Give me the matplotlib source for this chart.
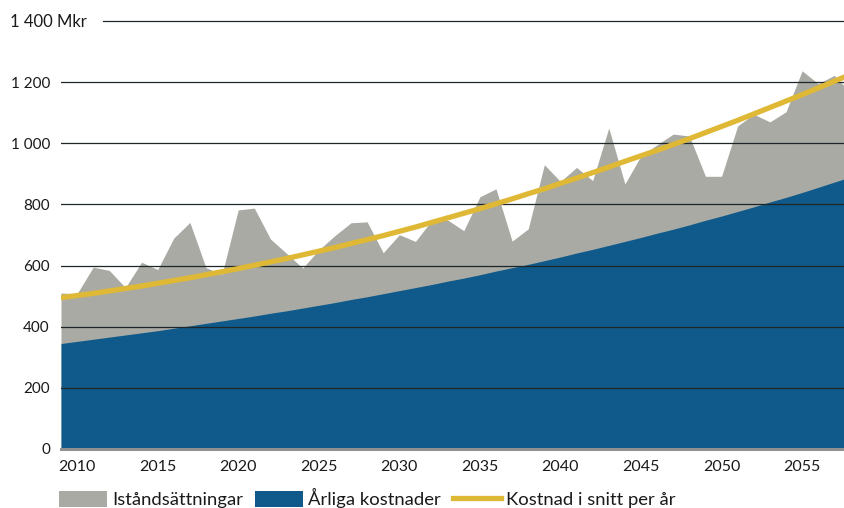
import matplotlib
matplotlib.use("Agg")
import matplotlib.pyplot as plt
from matplotlib.patches import Patch
from matplotlib.lines import Line2D

years = list(range(2009, 2059))

# top of the grey area (annual costs + repairs), Mkr
total = [510, 508, 595, 584, 528, 611, 587, 690, 741, 593,
         572, 782, 788, 687, 640, 592, 651, 698, 740, 743,
         642, 701, 679, 747, 749, 714, 825, 851, 680, 720,
         930, 875, 921, 878, 1050, 867, 959, 995, 1030, 1024,
         892, 892, 1057, 1095, 1070, 1103, 1237, 1195, 1222, 1165]

# Årliga kostnader
annual = [345, 352, 359, 366, 373, 380, 387, 395, 403, 411,
          419, 427, 435, 444, 452, 461, 470, 479, 489, 498,
          508, 518, 528, 538, 549, 559, 570, 582, 593, 604,
          616, 628, 641, 653, 666, 679, 692, 706, 719, 733,
          748, 762, 777, 792, 808, 823, 839, 856, 873, 890]

# Kostnad i snitt per år
average = [495, 502, 509, 517, 525, 533, 542, 551, 560, 570,
           580, 590, 601, 612, 623, 635, 647, 659, 672, 685,
           698, 712, 726, 741, 756, 771, 786, 802, 818, 835,
           851, 869, 886, 904, 922, 941, 959, 977, 996, 1015,
           1035, 1055, 1075, 1096, 1117, 1138, 1159, 1181, 1203, 1225]

xtick_years = list(range(2010, 2056, 5))
ytick_vals = [0, 200, 400, 600, 800, 1000, 1200]
ytick_labels = ["0", "200", "400", "600", "800", "1 000", "1 200"]
legend_labels = ["Iståndsättningar", "Årliga kostnader", "Kostnad i snitt per år"]

grey = "#a8aaa3"
blue = "#0f5a8a"
yellow = "#dfb936"
gridc = "#1f2628"

plt.rcParams["font.family"] = ["Lato", "DejaVu Sans"]

fig = plt.figure(figsize=(8.44, 5.08), dpi=100)
ax = fig.add_axes([61 / 844, 59 / 508, 783 / 844, 428 / 508])

ax.fill_between(years, 0, total, color=grey, lw=0, zorder=1)
ax.fill_between(years, 0, annual, color=blue, lw=0, zorder=2)

for v in ytick_vals[1:]:
    ax.axhline(v, color=gridc, lw=0.9, zorder=3)
ax.axhline(1400, xmin=42 / 783, color=gridc, lw=0.9, zorder=3, clip_on=False)
ax.axhline(0, color="#8e918e", lw=2.2, zorder=5, clip_on=False)

ax.plot(years, average, color=yellow, lw=3.8, zorder=4, solid_capstyle="butt")

ax.set_xlim(2009, 2057.6)
ax.set_ylim(0, 1400)
for s in ax.spines.values():
    s.set_visible(False)

ax.set_yticks(ytick_vals)
ax.set_yticklabels(ytick_labels)
ax.set_xticks(xtick_years)
ax.set_xticklabels([str(y) for y in xtick_years])
ax.tick_params(axis="y", length=0, pad=8, labelsize=11, colors="#1a1a1a")
ax.tick_params(axis="x", length=0, pad=8, labelsize=11.5, colors="#1a1a1a")

fig.text(10 / 844, 1 - 22 / 508, "1 400 Mkr", fontsize=12, color="#1a1a1a",
         ha="left", va="center")

handles = [Patch(color=grey, lw=0), Patch(color=blue, lw=0),
           Line2D([], [], color=yellow, lw=3.8)]
fig.legend(handles, legend_labels, loc="center left",
           bbox_to_anchor=(59 / 844, 1 - 498 / 508), ncol=3, frameon=False,
           fontsize=13.3, handlelength=2.6, handleheight=0.95,
           handletextpad=0.27, columnspacing=0.65, borderpad=0,
           borderaxespad=0, labelcolor="#1a1a1a")

fig.savefig("out.png", dpi=100)
